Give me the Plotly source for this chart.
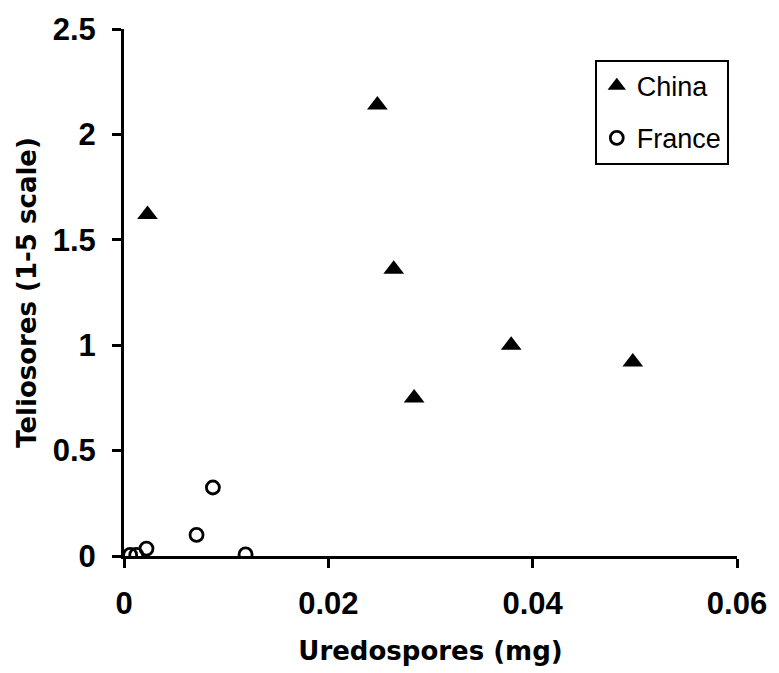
import plotly.graph_objects as go

china_x = [0.0023, 0.0248, 0.0264, 0.0284, 0.0379, 0.0498]
china_y = [1.62, 2.14, 1.36, 0.75, 1.0, 0.92]
france_x = [0.0006, 0.0012, 0.0022, 0.0071, 0.0087, 0.0119]
france_y = [0.005, 0.005, 0.035, 0.10, 0.325, 0.008]

x_ticks = [0, 0.02, 0.04, 0.06]
x_labels = ["0", "0.02", "0.04", "0.06"]
y_ticks = [0, 0.5, 1, 1.5, 2, 2.5]
y_labels = ["0", "0.5", "1", "1.5", "2", "2.5"]

fig = go.Figure()
fig.add_trace(go.Scatter(x=china_x, y=china_y, mode="markers", name="China",
                         legendgroup="a",
                         marker=dict(symbol="triangle-up", size=18, color="black",
                                     line=dict(width=0))))
fig.add_trace(go.Scatter(x=france_x, y=france_y, mode="markers", name="France",
                         legendgroup="b",
                         marker=dict(symbol="circle-open", size=13, color="black",
                                     line=dict(width=2.8, color="black"))))

title_font = dict(family="DejaVu Sans", size=26, color="black")
tick_font = dict(family="Liberation Sans", size=31, color="black")

fig.update_layout(
    width=779, height=673,
    margin=dict(l=124, r=33, t=27, b=114),
    plot_bgcolor="white", paper_bgcolor="white",
    showlegend=True,
    legend=dict(x=0.768, y=0.9417, xanchor="left", yanchor="top",
                bgcolor="white", bordercolor="black", borderwidth=2,
                font=dict(family="Liberation Sans", size=27, color="black"),
                tracegroupgap=14, itemwidth=30,
                entrywidth=120, entrywidthmode="pixels"),
    xaxis=dict(range=[0, 0.06], tickvals=x_ticks,
               ticktext=["<b>%s</b>" % t for t in x_labels],
               showgrid=False, zeroline=False, showline=True, linecolor="black",
               linewidth=3, ticks="outside", ticklen=9, tickwidth=3, tickcolor="black",
               tickfont=tick_font, ticklabelstandoff=9,
               title=dict(text="<b>Uredospores (mg)</b>", font=title_font, standoff=22)),
    yaxis=dict(range=[0, 2.5], tickvals=y_ticks,
               ticktext=["<b>%s</b>" % t for t in y_labels],
               showgrid=False, zeroline=False, showline=True, linecolor="black",
               linewidth=3, ticks="outside", ticklen=9, tickwidth=3, tickcolor="black",
               tickfont=tick_font, ticklabelstandoff=10,
               title=dict(text="<b>Teliosores (1-5 scale)</b>", font=title_font, standoff=9)),
)
fig.write_html("out.html", config={"displayModeBar": False},
               post_script="document.body.style.margin='0';document.body.style.overflow='hidden';")
